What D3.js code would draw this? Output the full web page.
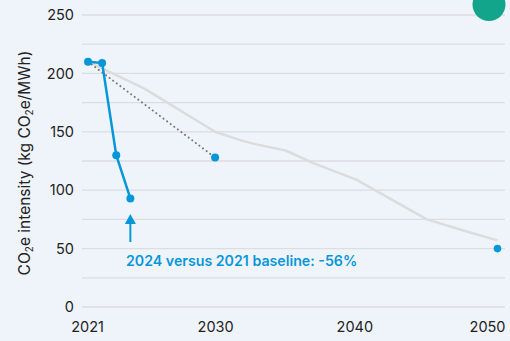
<!DOCTYPE html>
<html>
<head>
<meta charset="utf-8">
<script src="https://cdn.jsdelivr.net/npm/d3@7"></script>
<style>
  html, body { margin: 0; padding: 0; background: #eff4fa; }
  svg { display: block; }
</style>
</head>
<body>
<svg id="chart" width="510" height="341"></svg>
<script>
// ---- Data ----
const actualYears = [2021, 2022, 2023, 2024];
const actualValues = [210, 209, 130, 93];

const targetYears = [2021, 2030];
const targetValues = [210, 128];

const target2050Years = [2050];
const target2050Values = [50];

const pathwayYears = [2021, 2025, 2030, 2032, 2033, 2035, 2037, 2040, 2045, 2048, 2050];
const pathwayValues = [210, 187, 150, 142, 139, 134, 123, 109, 75, 64, 57];

const yTicks = [0, 50, 100, 150, 200, 250];
const yGrid = [0, 25, 50, 75, 100, 125, 150, 175, 200, 225, 250];
const xTicks = [2021, 2030, 2040, 2050];

const annotationText = "2024 versus 2021 baseline: -56%";

// ---- Layout ----
const W = 510, H = 341;
const svg = d3.select("#chart");
const FONT = "Inter, Lato, sans-serif";
const BLUE = "#0797d9";

const x = d3.scaleLinear().domain([2021, 2050]).range([88, 497.5]);
const y = d3.scaleLinear().domain([0, 250]).range([307, 15]);

svg.append("rect").attr("width", W).attr("height", H).attr("fill", "#eff4fa");

// gridlines
svg.append("g").selectAll("line").data(yGrid).join("line")
  .attr("x1", 82).attr("x2", 505)
  .attr("y1", d => y(d)).attr("y2", d => y(d))
  .attr("stroke", "#dcdde0").attr("stroke-width", 1.3);

// y axis labels
const yAxis = d3.axisLeft(y).tickValues(yTicks).tickSize(0).tickPadding(0);
const gy = svg.append("g").attr("transform", "translate(74,0)").call(yAxis);
gy.select(".domain").remove();
gy.selectAll("text").attr("font-family", FONT).attr("font-size", 14.5).attr("fill", "#222");

// x axis labels
const xAxis = d3.axisBottom(x).tickValues(xTicks).tickFormat(d3.format("d")).tickSize(0).tickPadding(0);
const gx = svg.append("g").attr("transform", "translate(0,322)").call(xAxis);
gx.select(".domain").remove();
gx.selectAll("text").attr("font-family", FONT).attr("font-size", 14.5).attr("fill", "#222")
  .attr("text-anchor", d => d === 2050 ? "end" : "middle")
  .attr("x", d => d === 2050 ? 505 - x(2050) : (d === 2021 ? -1 : (d === 2040 ? -2 : 0)));

// y axis title
const title = svg.append("text")
  .attr("transform", "translate(30,163) rotate(-90)")
  .attr("text-anchor", "middle")
  .attr("font-family", FONT).attr("font-size", 15.5).attr("fill", "#222");
title.append("tspan").text("CO");
title.append("tspan").text("2").attr("font-size", 10).attr("dy", 3);
title.append("tspan").text("e intensity (kg CO").attr("dy", -3);
title.append("tspan").text("2").attr("font-size", 10).attr("dy", 3);
title.append("tspan").text("e/MWh)").attr("dy", -3);

// pathway line
const line = d3.line().x(d => x(d[0])).y(d => y(d[1]));
svg.append("path")
  .datum(pathwayYears.map((yr, i) => [yr, pathwayValues[i]]))
  .attr("d", line).attr("fill", "none")
  .attr("stroke", "#dcdcdc").attr("stroke-width", 2.5).attr("stroke-linejoin", "round");

// dotted target line
svg.append("path")
  .datum(targetYears.map((yr, i) => [yr, targetValues[i]]))
  .attr("d", line).attr("fill", "none")
  .attr("stroke", "#777").attr("stroke-width", 2)
  .attr("stroke-dasharray", "0.1,4.4").attr("stroke-linecap", "round");

// actual line
const actual = actualYears.map((yr, i) => [yr, actualValues[i]]);
svg.append("path").datum(actual)
  .attr("d", line).attr("fill", "none")
  .attr("stroke", BLUE).attr("stroke-width", 2.5).attr("stroke-linejoin", "round");
svg.append("g").selectAll("circle").data(actual).join("circle")
  .attr("cx", d => x(d[0])).attr("cy", d => y(d[1])).attr("r", 4).attr("fill", BLUE);

// target dots
svg.append("circle").attr("cx", x(targetYears[1])).attr("cy", y(targetValues[1])).attr("r", 4).attr("fill", BLUE);
svg.append("circle").attr("cx", x(target2050Years[0])).attr("cy", y(target2050Values[0])).attr("r", 3.8).attr("fill", BLUE);

// arrow
const ax = x(2024);
svg.append("line").attr("x1", ax).attr("x2", ax).attr("y1", 242).attr("y2", 222)
  .attr("stroke", BLUE).attr("stroke-width", 2);
svg.append("path")
  .attr("d", `M${ax},214 L${ax - 5.5},224 L${ax + 5.5},224 Z`)
  .attr("fill", BLUE);

// annotation
svg.append("text").attr("x", 126).attr("y", 265.5)
  .attr("font-family", FONT).attr("font-size", 14.2).attr("font-weight", 600)
  .attr("fill", BLUE).text(annotationText);

// teal circle top right
svg.append("circle").attr("cx", 489).attr("cy", 4.5).attr("r", 16.5).attr("fill", "#12a58b");
</script>
</body>
</html>
